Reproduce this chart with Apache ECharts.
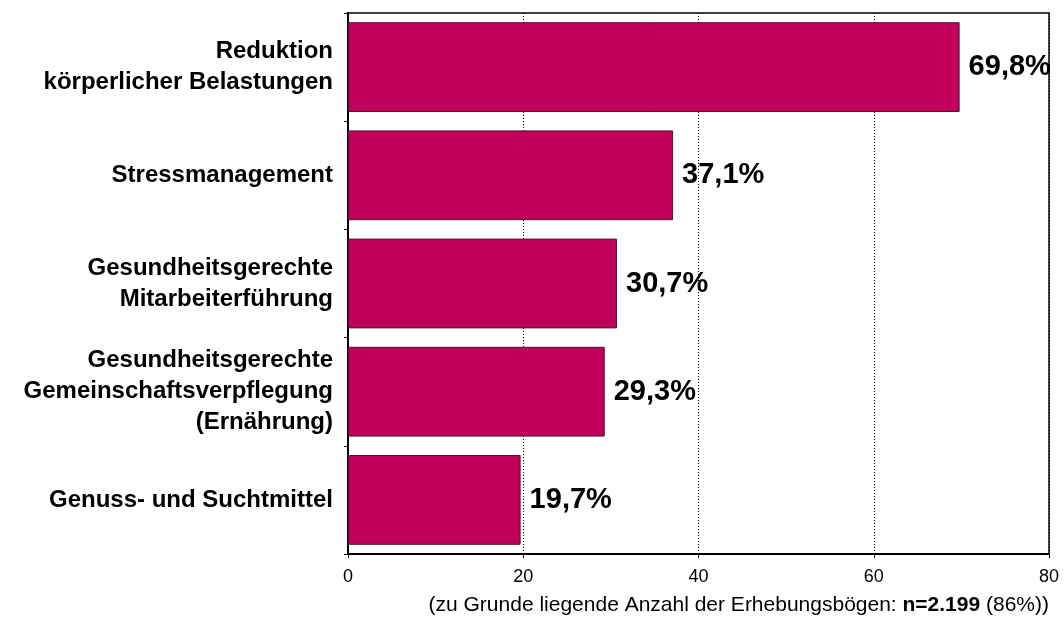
<!DOCTYPE html>
<html>
<head>
<meta charset="utf-8">
<script src="https://cdn.jsdelivr.net/npm/echarts@6/dist/echarts.min.js"></script>
<style>
  html, body { margin: 0; padding: 0; background: #fff; }
  #chart { width: 1064px; height: 629px; }
</style>
</head>
<body>
<div id="chart"></div>
<script>
var categories = [
  "Reduktion\nkörperlicher Belastungen",
  "Stressmanagement",
  "Gesundheitsgerechte\nMitarbeiterführung",
  "Gesundheitsgerechte\nGemeinschaftsverpflegung\n(Ernährung)",
  "Genuss- und Suchtmittel"
];
var values = [69.8, 37.1, 30.7, 29.3, 19.7];
var xTicks = [0, 20, 40, 60, 80];

var chart = echarts.init(document.getElementById("chart"));
var font = "Liberation Sans, Arial, sans-serif";

var option = {
  animation: false,
  textStyle: { fontFamily: font },
  grid: {
    left: 348,
    right: 15,
    top: 13,
    bottom: 75,
    show: true,
    borderColor: "#000",
    borderWidth: 1.5
  },
  xAxis: {
    type: "value",
    min: xTicks[0],
    max: xTicks[xTicks.length - 1],
    interval: 20,
    axisLine: { show: true, lineStyle: { color: "#000", width: 2 } },
    axisTick: { show: true, length: 4, lineStyle: { color: "#000" } },
    axisLabel: { color: "#000", fontSize: 18, margin: 14, fontFamily: font },
    splitLine: { show: true, lineStyle: { color: "#000", type: [1, 2], width: 1 } }
  },
  yAxis: {
    type: "category",
    data: categories,
    inverse: true,
    axisLine: { show: true, lineStyle: { color: "#000", width: 2 } },
    axisTick: { show: true, length: 4, lineStyle: { color: "#000" } },
    axisLabel: {
      color: "#000",
      fontSize: 24,
      fontWeight: "bold",
      lineHeight: 31,
      margin: 15,
      fontFamily: font
    }
  },
  series: [
    {
      type: "bar",
      data: values,
      barCategoryGap: "17%",
      itemStyle: { color: "#C0005A", borderColor: "#4a1a30", borderWidth: 1 },
      label: {
        show: true,
        position: "right",
        distance: 9,
        color: "#000",
        fontSize: 29,
        fontWeight: "bold",
        fontFamily: font,
        formatter: function (p) {
          return p.value.toFixed(1).replace(".", ",") + "%";
        }
      }
    }
  ],
  graphic: [
    {
      type: "text",
      right: 15,
      top: 595,
      style: {
        text: "(zu Grunde liegende Anzahl der Erhebungsbögen: {b|n=2.199} (86%))",
        rich: {
          b: { fontWeight: "bold", fontSize: 21, fontFamily: font, fill: "#000" }
        },
        font: "21px " + font,
        fill: "#000"
      }
    }
  ]
};

chart.setOption(option);
window.addEventListener("resize", function () {
  chart.resize();
});
</script>
</body>
</html>
